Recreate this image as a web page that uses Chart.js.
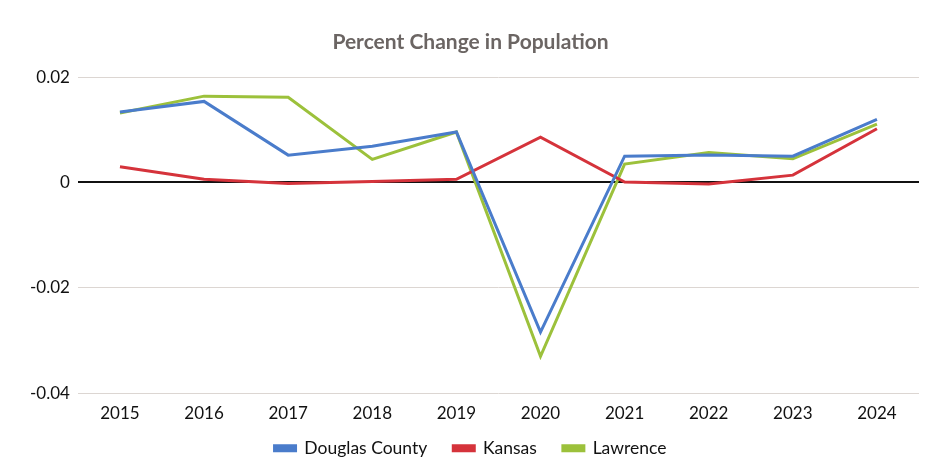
<!DOCTYPE html>
<html>
<head>
<meta charset="utf-8">
<script src="https://cdn.jsdelivr.net/npm/chart.js@4/dist/chart.umd.min.js"></script>
<style>
  html, body { margin: 0; padding: 0; background: #fff; }
  #wrap { width: 927px; height: 474px; position: relative; }
</style>
</head>
<body>
<div id="wrap"><canvas id="popChange"></canvas></div>
<script>
const years = ["2015", "2016", "2017", "2018", "2019", "2020", "2021", "2022", "2023", "2024"];
const douglasCounty = [0.0134, 0.0154, 0.0052, 0.0069, 0.0096, -0.0284, 0.0050, 0.0052, 0.0050, 0.0120];
const kansas = [0.0030, 0.0006, -0.0002, 0.0002, 0.0006, 0.0086, 0.0001, -0.0003, 0.0014, 0.0102];
const lawrence = [0.0132, 0.0164, 0.0162, 0.0044, 0.0096, -0.0330, 0.0035, 0.0057, 0.0045, 0.0111];

const font = "Lato, 'Open Sans', sans-serif";

const line = (label, data, color) => ({
  label: label,
  data: data,
  borderColor: color,
  backgroundColor: color,
  borderWidth: 3,
  pointRadius: 0,
  tension: 0,
});

// legend padding also spaces the items apart; nudge the box up so the
// wide item gaps don't push it far below the year labels
const legendNudge = {
  id: "legendNudge",
  afterLayout(chart) {
    const legend = chart.legend;
    if (!legend) return;
    legend.top -= 12;
    legend.bottom -= 12;
  },
};

new Chart(document.getElementById("popChange"), {
  type: "line",
  data: {
    labels: years,
    datasets: [
      line("Douglas County", douglasCounty, "#4a7ccb"),
      line("Kansas", kansas, "#d5333b"),
      line("Lawrence", lawrence, "#9cc13b"),
    ],
  },
  plugins: [legendNudge],
  options: {
    responsive: true,
    maintainAspectRatio: false,
    animation: false,
    layout: { padding: { left: 22, right: 8, top: 30, bottom: -5 } },
    plugins: {
      title: {
        display: true,
        text: "Percent Change in Population",
        color: "#6b6563",
        font: { family: font, size: 21, weight: "bold" },
        padding: { top: 0, bottom: 22 },
      },
      legend: {
        position: "bottom",
        labels: {
          color: "#111",
          font: { family: font, size: 17.5 },
          boxWidth: 21,
          boxHeight: 5,
          padding: 26,
        },
      },
      tooltip: { enabled: false },
    },
    scales: {
      x: {
        offset: true,
        grid: { display: false },
        border: { display: false },
        ticks: {
          color: "#111",
          font: { family: font, size: 17 },
          padding: 2,
        },
      },
      y: {
        min: -0.04,
        max: 0.02,
        border: { display: false },
        grid: {
          color: function (ctx) {
            return ctx.tick && ctx.tick.value === 0 ? "#111" : "#dcd6d2";
          },
          lineWidth: function (ctx) {
            return ctx.tick && ctx.tick.value === 0 ? 2 : 1;
          },
          drawTicks: false,
        },
        ticks: {
          stepSize: 0.02,
          color: "#111",
          font: { family: font, size: 17 },
          padding: 8,
          callback: function (v) {
            return v === 0 ? "0" : String(Math.round(v * 100) / 100);
          },
        },
      },
    },
  },
});
</script>
</body>
</html>
